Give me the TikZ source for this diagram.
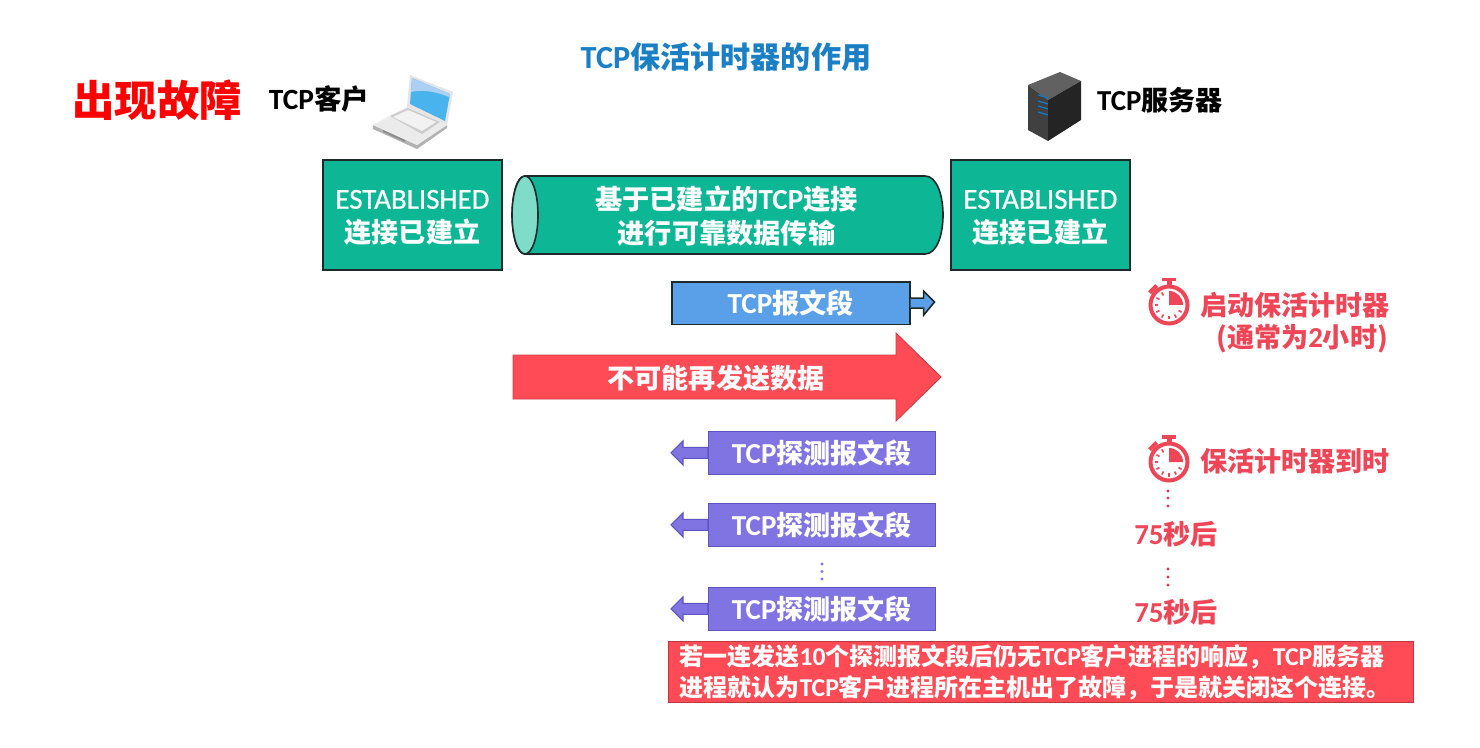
\documentclass[tikz,border=0pt]{standalone}
\usepackage{fontspec}
\setmainfont{Noto Sans CJK SC}
\newfontfamily\latf[Scale=1.07]{Carlito}
\newfontfamily\latm[Scale=1.07,FakeBold=0.5]{Carlito}
\newcommand{\lat}[1]{{\latf #1}}
\newcommand{\estlabel}{\raisebox{-1.6pt}[\height][\depth]{\latm ESTABLISHED}\\\raisebox{-1.6pt}[\height][\depth]{\textbf{连接已建立}}}
\usetikzlibrary{calc}
\definecolor{teal1}{HTML}{0DB795}
\definecolor{teal2}{HTML}{7FDCC8}
\definecolor{blue1}{HTML}{5AA0E8}
\definecolor{red1}{HTML}{FF4B55}
\definecolor{purp1}{HTML}{8074E2}
\definecolor{purp2}{HTML}{5F55BE}
\definecolor{redtxt}{HTML}{EF4657}
\definecolor{titleblue}{HTML}{1A7FC4}
\definecolor{dk}{HTML}{1E2A2A}
\tikzset{
 x=0.75pt,y=-0.75pt,
 estbox/.style={draw=dk,line width=1.2pt,fill=teal1,text=white,minimum width=134.5pt,minimum height=82.5pt,inner sep=0pt,align=center,font=\fontsize{20.3}{25}\selectfont,anchor=north west},
 probebox/.style={draw=purp2,line width=.8pt,fill=purp1,text=white,minimum width=170pt,minimum height=32pt,inner sep=0pt,anchor=north west,font=\bfseries\fontsize{20.3}{22}\selectfont},
 probearrow/.style={draw=purp2,line width=.8pt,fill=purp1},
 redlabel/.style={text=redtxt,font=\bfseries\fontsize{20.3}{25}\selectfont,inner sep=0pt},
}
\newcommand{\watch}[2]{%
 \begin{scope}[shift={(#1,#2)}]
  \fill[redtxt] (-7,-27) rectangle (7,-23.5);
  \fill[redtxt] (-2.5,-25) rectangle (2.5,-19);
  \fill[redtxt,rotate=45] (-5,-24.5) rectangle (5,-20.5);
  \draw[redtxt,line width=3pt,fill=white] (0,0) circle (18.5);
  \fill[redtxt] (0,0) -- (0,-14) arc (-90:0:14) -- cycle;
  \foreach \a in {30,60,90,120,150,180,210,240}
   \draw[redtxt,line width=1.2pt] (\a:11) -- (\a:14.5);
 \end{scope}}
\begin{document}
\begin{tikzpicture}
\useasboundingbox (0,0) rectangle (1480,748);
\fill[white] (0,0) rectangle (1480,748);
% titles
\node[inner sep=0pt,text=titleblue,font=\bfseries\fontsize{22.6}{26}\selectfont] (title) at (726,57) {\lat{TCP}保活计时器的作用};
\node[inner sep=0pt,text=red,font=\bfseries\fontsize{31.8}{36}\selectfont] (fault) at (157,100) {出现故障};
\node[inner sep=0pt,font=\bfseries\fontsize{20.6}{24}\selectfont] (client) at (319,99) {\lat{TCP}客户};
\node[inner sep=0pt,font=\bfseries\fontsize{20.3}{24}\selectfont] (server) at (1160,100) {\lat{TCP}服务器};
% laptop
\fill[black!30] (373,125) -- (373,129) -- (417,149) -- (447,128) -- (447,125) -- (417,145) -- cycle;
\fill[black!8] (373,125) -- (407,107) -- (447,125) -- (417,145) -- cycle;
\fill[black!20] (390,116) -- (408,108) -- (440,122) -- (422,134) -- cycle;
\fill[black!5] (393,117) -- (408,110) -- (436,122) -- (422,131) -- cycle;
\fill[black!45] (383,130) -- (405,140) -- (405,142) -- (383,132) -- cycle;
\fill[black!10] (407,107) -- (410,75) -- (453,92) -- (447,125) -- cycle;
\fill[blue1!80!cyan] (410,104) -- (412,78) -- (450,94) -- (445,121) -- cycle;
\fill[blue1!50!white] (411,92) -- (412,78) -- (450,94) -- (449,97) .. controls (432,90) and (420,90) .. (411,92) -- cycle;
% server
\fill[black!62] (1028,85) -- (1060,72) -- (1081,81) -- (1048,100) -- cycle;
\fill[black!75] (1028,85) -- (1048,100) -- (1048,141) -- (1028,130) -- cycle;
\fill[black!86] (1048,100) -- (1081,81) -- (1081,120) -- (1048,141) -- cycle;
\foreach \yy in {95,101,106,112}
 \draw[cyan!60!blue,line width=.9pt] (1038,\yy) -- (1048,\yy+3);
% established boxes
\node[estbox] (est1) at (322,159.5) {\estlabel};
\node[estbox] (est2) at (950,159.5) {\estlabel};
% tube
\draw[dk,line width=1.2pt,fill=teal1] (525,176) -- (925,176) .. controls (949,176) and (949,254) .. (925,254) -- (525,254) .. controls (508,254) and (508,176) .. (525,176) -- cycle;
\draw[dk,line width=1.2pt,fill=teal2] (525,215) ellipse (13 and 39);
\node[inner sep=0pt,text=white,align=center,font=\bfseries\fontsize{20.4}{25}\selectfont] (tube) at (726.5,216) {基于已建立的\lat{TCP}连接\\进行可靠数据传输};
% TCP segment
\node[draw=dk,line width=1.2pt,fill=blue1,text=white,minimum width=178.5pt,minimum height=32pt,inner sep=0pt,anchor=north west,font=\bfseries\fontsize{20.4}{22}\selectfont] (seg) at (671,281) {\lat{TCP}报文段};
\coordinate (segtip) at (934.5,302);
\draw[dk,line width=1.2pt,fill=blue1] ($(seg.east)+(0,-5)$) -- ++(13,0) -- ++(0,-7) -- (segtip) -- ($(seg.east)+(13,12)$) -- ++(0,-7) -- ($(seg.east)+(0,5)$);
% red arrow
\coordinate (rtail) at (513,377);
\coordinate (rtip) at (941,377);
\draw[red1!80!black,line width=.7pt,fill=red1] (513,355) -- (896,355) -- (896,333) -- (rtip) -- (896,421) -- (896,399) -- (513,399) -- cycle;
\node[inner sep=0pt,text=white,font=\bfseries\fontsize{20.3}{22}\selectfont] (nosend) at (716,378) {不可能再发送数据};
% probes
\node[probebox] (p1) at (708,431) {\lat{TCP}探测报文段};
\node[probebox] (p2) at (708,503) {\lat{TCP}探测报文段};
\node[probebox] (p3) at (708,587) {\lat{TCP}探测报文段};
\foreach \n in {p1,p2,p3}{
 \draw[probearrow] ($(\n.west)+(0,-5.5)$) -- ++(-25,0) -- ++(0,-6.5) -- ($(\n.west)+(-37,0)$) -- ($(\n.west)+(-25,12)$) -- ++(0,-6.5) -- ($(\n.west)+(0,5.5)$) -- cycle;
}
\foreach \yy in {564,571.5,579}
 \fill[purp1] (822,\yy) circle (1.7);
% timers
\watch{1169}{305}
\watch{1169}{462}
\node[redlabel,anchor=west] (t1) at (1200,305) {启动保活计时器};
\node[redlabel,anchor=west] (t2) at (1216,339) {(通常为\lat{2}小时)};
\node[redlabel,anchor=west] (t3) at (1200,461) {保活计时器到时};
\foreach \yy in {491,498,506,569,577,585}
 \fill[redtxt!85!black] (1168,\yy) circle (1.6);
\node[redlabel,anchor=west] (s1) at (1134,534) {\lat{75}秒后};
\node[redlabel,anchor=west] (s2) at (1134,612) {\lat{75}秒后};
% bottom note
\node[draw=red1!75!black,line width=.8pt,fill=red1,text=white,minimum height=46pt,inner ysep=0pt,inner xsep=8.25pt,text width=542pt,anchor=north west,align=left,font=\bfseries\fontsize{18}{23}\selectfont] (note) at (668,641) {若一连发送\lat{10}个探测报文段后仍无\lat{TCP}客户进程的响应，\lat{TCP}服务器\\进程就认为\lat{TCP}客户进程所在主机出了故障，于是就关闭这个连接。};
\end{tikzpicture}
\end{document}
